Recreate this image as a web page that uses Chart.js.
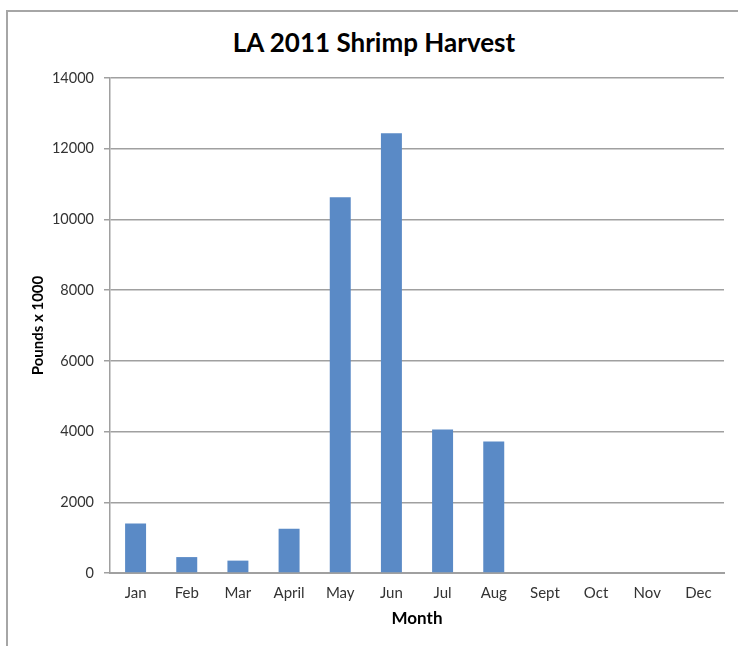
<!DOCTYPE html>
<html>
<head>
<meta charset="utf-8">
<script src="https://cdn.jsdelivr.net/npm/chart.js@4"></script>
<style>
  body { margin: 0; background: #fff; }
  #wrap { position: relative; width: 738px; height: 646px; }
  #frame {
    position: absolute; left: 6px; top: 10px; right: 0; bottom: 0;
    border-left: 2px solid #a6a6a6; border-top: 2px solid #a6a6a6;
  }
  #chartTitle {
    position: absolute; left: 0; top: 26px; width: 748px;
    text-align: center; line-height: 32px;
    font: bold 26px Lato, "Open Sans", sans-serif; color: #000;
  }
  canvas { position: absolute; left: 0; top: 0; }
</style>
</head>
<body>
<div id="wrap">
  <div id="frame"></div>
  <div id="chartTitle">LA 2011 Shrimp Harvest</div>
  <canvas id="harvestChart" width="738" height="646"></canvas>
</div>
<script>
const months = ['Jan', 'Feb', 'Mar', 'April', 'May', 'Jun', 'Jul', 'Aug', 'Sept', 'Oct', 'Nov', 'Dec'];
const poundsX1000 = [1400, 450, 350, 1255, 10630, 12435, 4060, 3720, null, null, null, null];
const yTicks = [0, 2000, 4000, 6000, 8000, 10000, 12000, 14000];

document.addEventListener('DOMContentLoaded', function() {
    const ctx = document.getElementById('harvestChart').getContext('2d');
    const fontFamily = 'Lato, "Open Sans", sans-serif';

    new Chart(ctx, {
        type: 'bar',
        data: {
            labels: months,
            datasets: [{
                label: 'Pounds x 1000',
                data: poundsX1000,
                backgroundColor: '#5a8ac6',
                borderWidth: 0,
                barPercentage: 0.41,
                categoryPercentage: 1.0
            }]
        },
        options: {
            responsive: false,
            animation: false,
            layout: {
                padding: { left: 0, right: 14, top: 78, bottom: 0 }
            },
            scales: {
                x: {
                    grid: { display: false, drawTicks: false },
                    border: { display: true, color: '#a0a0a0', width: 2 },
                    ticks: {
                        padding: 11,
                        color: '#333',
                        font: { family: fontFamily, size: 15 }
                    },
                    title: {
                        display: true,
                        text: 'Month',
                        color: '#000',
                        padding: { top: 0, bottom: 17 },
                        font: { family: fontFamily, size: 17, weight: 'bold' }
                    },
                    afterFit: (scale) => { scale.height = 73; }
                },
                y: {
                    min: 0,
                    max: 14000,
                    afterBuildTicks: (scale) => {
                        scale.ticks = yTicks.map(v => ({ value: v }));
                    },
                    grid: {
                        color: '#a0a0a0',
                        lineWidth: 1.5,
                        tickLength: 6
                    },
                    border: { display: true, color: '#a0a0a0', width: 1.5 },
                    ticks: {
                        padding: 10,
                        color: '#333',
                        font: { family: fontFamily, size: 14.5 },
                        callback: (value) => String(value)
                    },
                    title: {
                        display: true,
                        text: 'Pounds x 1000',
                        color: '#000',
                        padding: { top: 29, bottom: 0 },
                        font: { family: fontFamily, size: 15, weight: 'bold' }
                    },
                    afterFit: (scale) => { scale.width = 110; }
                }
            },
            plugins: {
                legend: { display: false },
                tooltip: { enabled: false },
                title: { display: false }
            }
        }
    });
});
</script>
</body>
</html>
